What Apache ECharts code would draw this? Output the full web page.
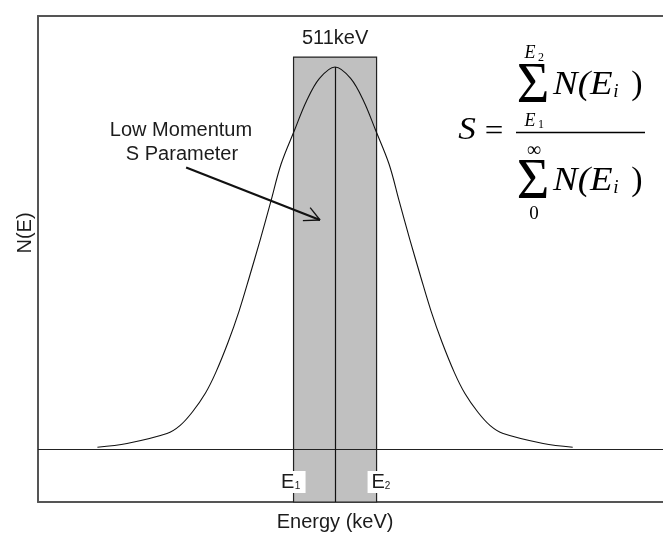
<!DOCTYPE html>
<html>
<head>
<meta charset="utf-8">
<script src="https://cdn.jsdelivr.net/npm/echarts@6/dist/echarts.min.js"></script>
<style>
html,body{margin:0;padding:0;background:#fff;}
#chart{width:663px;height:536px;}
</style>
</head>
<body>
<div id="chart"></div>
<script>
// ---- data (energy in keV, counts normalised so that the peak = 100) ----
const energyKeV = [506.42, 506.99, 507.76, 508.01, 508.25, 508.50, 508.70, 508.94, 509.15, 509.35, 509.56, 509.76, 509.96, 510.22, 510.45, 510.70,
  511.00,
  511.30, 511.55, 511.78, 512.04, 512.24, 512.44, 512.65, 512.85, 513.06, 513.30, 513.50, 513.75, 513.99, 514.24, 515.01, 515.58];
const counts = [0.48, 1.46, 4.06, 6.13, 9.69, 14.6, 20.0, 28.0, 36.1, 45.1, 54.9, 64.7, 74.6, 83.5, 91.1, 97.0,
  100,
  97.0, 91.1, 83.5, 74.6, 64.7, 54.9, 45.1, 36.1, 28.0, 20.0, 14.6, 9.69, 6.13, 4.06, 1.46, 0.48];
const peakEnergy = 511.0;
const peakCounts = 100;
const windowE1 = 510.2;
const windowE2 = 511.8;
const windowTop = 102.6;
const arrowStart = [508.13, 73.7];
const arrowTip = [510.71, 59.95];
const arrowArm1 = [510.52, 63.2];
const arrowArm2 = [510.38, 59.8];
const xMin = 505.275, xMax = 517.32;
const yMin = -13.87, yMax = 113.35;

const sans = '"Liberation Sans", Arial, sans-serif';
const serif = '"Liberation Serif", "Times New Roman", serif';
const txtColor = '#1c1c1c';

const curve = energyKeV.map((e, i) => [e, counts[i]]);

const chart = echarts.init(document.getElementById('chart'), null, {renderer: 'canvas'});

const frameLine = {show: true, onZero: false, lineStyle: {color: '#555', width: 2}};
const hidden = {axisTick: {show: false}, axisLabel: {show: false}, splitLine: {show: false}};

chart.setOption({
  animation: false,
  backgroundColor: '#ffffff',
  grid: {left: 38, top: 16, right: 0, bottom: 34},
  xAxis: [
    Object.assign({type: 'value', min: xMin, max: xMax, position: 'bottom', axisLine: frameLine}, hidden),
    Object.assign({type: 'value', min: xMin, max: xMax, position: 'top', axisLine: frameLine}, hidden)
  ],
  yAxis: [Object.assign({type: 'value', min: yMin, max: yMax, position: 'left', axisLine: frameLine}, hidden)],
  series: [
    {
      type: 'line', data: [], z: 1, silent: true,
      markArea: {
        silent: true,
        itemStyle: {color: '#c0c0c0', borderColor: '#222', borderWidth: 1.2},
        label: {show: false},
        data: [[{coord: [windowE1, yMin]}, {coord: [windowE2, windowTop]}]]
      }
    },
    {
      type: 'line', name: 'N(E)', data: curve, smooth: 0.35, showSymbol: false, z: 3,
      lineStyle: {color: '#111', width: 1.1}
    },
    {
      type: 'line', data: [], z: 4, silent: true,
      markLine: {
        silent: true, symbol: 'none', label: {show: false},
        lineStyle: {type: 'solid', color: '#111', width: 1.2},
        data: [
          {yAxis: 0, lineStyle: {type: 'solid', color: '#222', width: 1.2}},
          [{coord: [peakEnergy, yMin]}, {coord: [peakEnergy, peakCounts]}],
          [{coord: arrowStart, lineStyle: {width: 2.2, color: '#111'}}, {coord: arrowTip}],
          [{coord: arrowArm1, lineStyle: {width: 1.3, color: '#111'}}, {coord: arrowTip}],
          [{coord: arrowArm2, lineStyle: {width: 1.3, color: '#111'}}, {coord: arrowTip}]
        ]
      }
    }
  ]
});

function px(pt) { return chart.convertToPixel({gridIndex: 0}, pt); }
function T(text, x, y, font, opts) {
  return Object.assign({
    type: 'text', x: x, y: y, silent: true, z: 100,
    style: {text: text, x: 0, y: 0, font: font, fill: txtColor,
      align: 'center', verticalAlign: 'middle', textAlign: 'center', textVerticalAlign: 'middle'}
  }, opts || {});
}
function F(text, x, y, font, align, sx) {
  return {type: 'text', x: x, y: y, silent: true, z: 100, scaleX: sx || 1,
    style: {text: text, x: 0, y: 0, font: font, fill: '#000', align: align || 'center', verticalAlign: 'middle'}};
}

const pPeak = px([peakEnergy, peakCounts]);
const pE1 = px([windowE1, 0]);
const pE2 = px([windowE2, 0]);
const labY = 482;

const graphics = [
  T('511keV', pPeak[0], 38, '20px ' + sans),
  T('Energy (keV)', pPeak[0], 522, '20px ' + sans),
  T('N(E)', 25, 233, '20px ' + sans, {rotation: Math.PI / 2}),
  T('Low Momentum', 181, 130, '20px ' + sans),
  T('S Parameter', 182, 154, '20px ' + sans),
  // E1 / E2 labels with white patch
  {type: 'rect', silent: true, z: 99, shape: {x: pE1[0] - 14, y: labY - 11, width: 26, height: 22}, style: {fill: '#fff'}},
  T('E', pE1[0] - 6, labY, '20px ' + sans),
  T('1', pE1[0] + 4, labY + 4, '10px ' + sans),
  {type: 'rect', silent: true, z: 99, shape: {x: pE2[0] - 9, y: labY - 11, width: 25, height: 22}, style: {fill: '#fff'}},
  T('E', pE2[0] + 1.5, labY, '20px ' + sans),
  T('2', pE2[0] + 11, labY + 4, '10px ' + sans),
  // formula
  F('S', 467, 131, 'italic 32px ' + serif, 'center', 1.1),
  F('=', 494, 132, '30px ' + serif, 'center', 1.1),
  {type: 'line', silent: true, z: 100, shape: {x1: 516, y1: 132.5, x2: 645, y2: 132.5}, style: {stroke: '#000', lineWidth: 1.3}}
];
[0, 96].forEach(function (dy) {
  graphics.push(F('\u03A3', 533, 87 + dy, '56px ' + serif));
  graphics.push(F('N(E', 553, 85 + dy, 'italic 33px ' + serif, 'left', 1.12));
  graphics.push(F('i', 616, 92 + dy, 'italic 19px ' + serif));
  graphics.push(F(')', 637, 85 + dy, '34px ' + serif));
});
graphics.push(F('E', 530, 53.5, 'italic 18px ' + serif));
graphics.push(F('2', 541, 58, '12px ' + serif));
graphics.push(F('E', 530, 121, 'italic 18px ' + serif));
graphics.push(F('1', 541, 125, '12px ' + serif));
graphics.push(F('\u221E', 534, 151, '20px ' + serif));
graphics.push(F('0', 534, 214, '19px ' + serif));

chart.setOption({graphic: {elements: graphics}});
</script>
</body>
</html>
